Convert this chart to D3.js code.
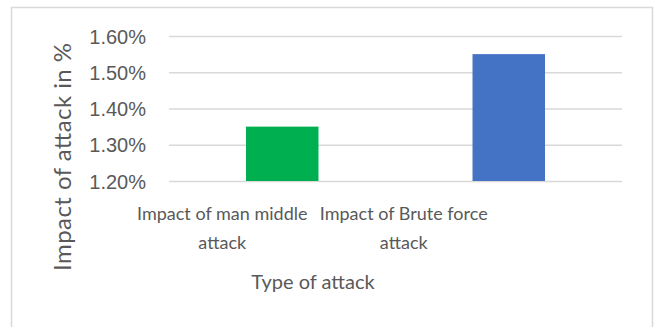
<!DOCTYPE html>
<html><head><meta charset="utf-8">
<script src="https://cdn.jsdelivr.net/npm/d3@7"></script>
<style>body{margin:0;background:#fff;}svg{display:block;font-family:Lato, "Open Sans", sans-serif;}</style>
</head><body>
<svg id="c" width="657" height="327"></svg>
<script>
const categories = [["Impact of man middle", "attack"], ["Impact of Brute force", "attack"]];
const values = [1.35, 1.55];
const colors = ["#00B050", "#4472C4"];
const yTicks = [1.2, 1.3, 1.4, 1.5, 1.6];
const xTitle = "Type of attack";
const yTitle = "Impact of attack in %";

const svg = d3.select("#c");
svg.append("rect").attr("x", 11.5).attr("y", 7.5).attr("width", 641).attr("height", 340)
  .attr("fill", "#fff").attr("stroke", "#d9d9d9").attr("stroke-width", 1.5);

const m = {l: 169, r: 622, t: 36, b: 181};
const x = d3.scaleBand().domain(categories.map((d, i) => i)).range([m.l, m.r]).paddingInner(0.68).paddingOuter(0.34);
const y = d3.scaleLinear().domain([1.2, 1.6]).range([m.b, m.t]);

const yAxis = d3.axisLeft(y).tickValues(yTicks).tickSize(-(m.r - m.l)).tickPadding(23)
  .tickFormat(d => d.toFixed(2) + "%");
const gy = svg.append("g").attr("transform", `translate(${m.l},0)`).call(yAxis);
gy.select(".domain").remove();
gy.selectAll(".tick line").attr("stroke", "#d9d9d9").attr("stroke-width", 1.5);
gy.selectAll(".tick text").attr("fill", "#595959").style("font-size", "20px").attr("dy", "0.35em");

svg.append("g").selectAll("rect").data(values).join("rect")
  .attr("x", (d, i) => x(i)).attr("width", x.bandwidth())
  .attr("y", d => y(d)).attr("height", d => y(1.2) - y(d))
  .attr("fill", (d, i) => colors[i]);

const labelShift = -60;
const gx = svg.append("g");
categories.forEach((lines, i) => {
  const t = gx.append("text").attr("text-anchor", "middle").attr("fill", "#595959")
    .style("font-size", "18px")
    .attr("x", x(i) + x.bandwidth() / 2 + labelShift + (i === 1 ? -45 : 0));
  lines.forEach((l, j) => t.append("tspan").attr("x", t.attr("x")).attr("y", 219.5 + j * 29).text(l));
});

svg.append("text").attr("x", 313).attr("y", 289).attr("text-anchor", "middle")
  .attr("fill", "#595959").style("font-size", "20px").text(xTitle);
svg.append("text").attr("transform", "translate(71,157) rotate(-90)").attr("text-anchor", "middle")
  .attr("fill", "#595959").style("font-size", "24px")
  .attr("textLength", 228).attr("lengthAdjust", "spacing").text(yTitle);
</script>
</body></html>
